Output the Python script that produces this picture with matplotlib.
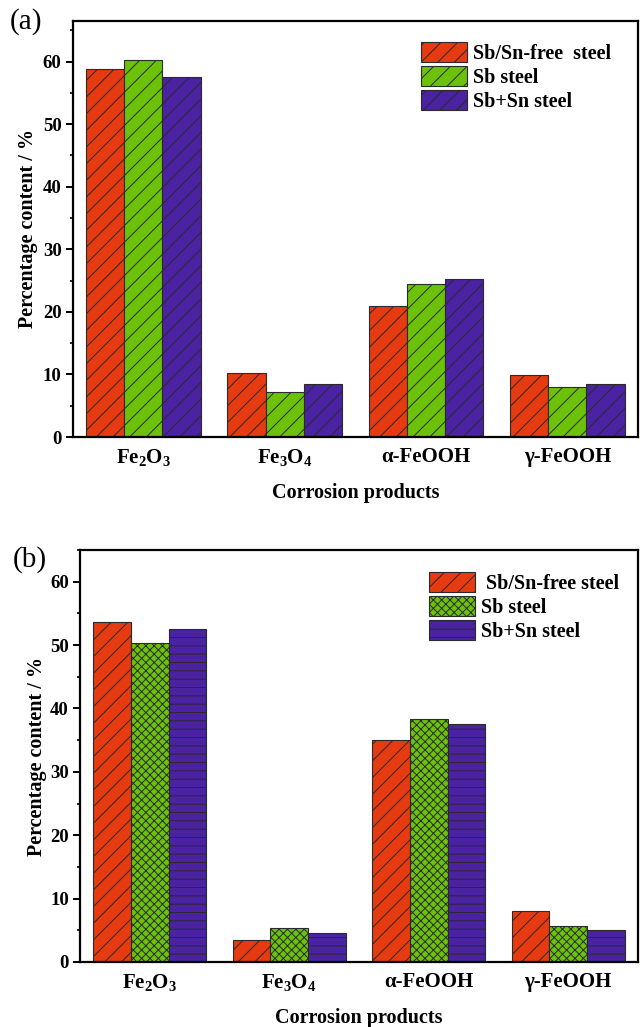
import numpy as np
import matplotlib
matplotlib.use("Agg")
import matplotlib.pyplot as plt
from matplotlib.ticker import MultipleLocator

# ---- data -------------------------------------------------------------
products = [r"$\mathrm{Fe_2O_3}$", r"$\mathrm{Fe_3O_4}$", "α-FeOOH", "γ-FeOOH"]
steels_a = ["Sb/Sn-free  steel", "Sb steel", "Sb+Sn steel"]
steels_b = [" Sb/Sn-free steel", "Sb steel", "Sb+Sn steel"]

# panel (a): percentage content of each corrosion product
free_a = [58.8, 10.2, 21.0, 9.9]
sb_a = [60.2, 7.2, 24.4, 8.0]
sbsn_a = [57.5, 8.4, 25.3, 8.5]

# panel (b)
free_b = [53.6, 3.4, 35.0, 8.0]
sb_b = [50.4, 5.4, 38.3, 5.7]
sbsn_b = [52.6, 4.5, 37.6, 5.1]

y_ticks = [0, 10, 20, 30, 40, 50, 60]

# ---- style ------------------------------------------------------------
plt.rcParams["font.family"] = ["Liberation Serif", "DejaVu Serif"]
plt.rcParams["font.weight"] = "bold"
plt.rcParams["mathtext.fontset"] = "custom"
plt.rcParams["mathtext.rm"] = "Liberation Serif:bold"
plt.rcParams["mathtext.it"] = "Liberation Serif:italic:bold"
plt.rcParams["mathtext.bf"] = "Liberation Serif:bold"
plt.rcParams["hatch.linewidth"] = 0.7

colors = ["#E63A10", "#6CC10B", "#4A22A2"]
edge = "#2a2a2a"

W, H = 644, 1027
fig = plt.figure(figsize=(W / 100, H / 100), dpi=100)


def box(left, top, right, bottom):
    return [left / W, 1 - bottom / H, (right - left) / W, (bottom - top) / H]


def panel(rect, series, labels, hatches, ymax, tag, tag_xy, leg_xy, ylab_x):
    ax = fig.add_axes(rect)
    x = np.arange(len(products))
    width = 0.27
    handles = []
    for i, (vals, lab, hat) in enumerate(zip(series, labels, hatches)):
        b = ax.bar(x + (i - 1) * width, vals, width, color=colors[i],
                   edgecolor=edge, linewidth=0.8, hatch=hat, label=lab)
        handles.append(b)
    ax.set_xlim(-0.5, 3.5)
    ax.set_ylim(0, ymax)
    ax.set_xticks(x)
    ax.set_xticklabels(products, fontsize=15, fontweight="bold")
    ax.set_yticks(y_ticks)
    ax.yaxis.set_minor_locator(MultipleLocator(5))
    ax.tick_params(axis="x", length=0, pad=7)
    ax.tick_params(axis="y", which="major", length=5, width=1.4,
                   labelsize=13.5, pad=3)
    ax.tick_params(axis="y", which="minor", length=2.5, width=1.2)
    for lbl in ax.get_yticklabels():
        lbl.set_fontweight("bold")
    for s in ax.spines.values():
        s.set_linewidth(1.6)
    ax.set_xlabel("Corrosion products", fontsize=14.5, fontweight="bold",
                  labelpad=11)
    ax.set_ylabel("Percentage content / %", fontsize=14.5, fontweight="bold")
    ax.yaxis.set_label_coords(ylab_x, 0.5)
    fig.text(tag_xy[0] / W, 1 - tag_xy[1] / H, tag, fontsize=21,
             fontweight="normal", ha="center", va="center")
    ax.legend(handles=handles, loc="upper left",
              bbox_to_anchor=(leg_xy[0] / W, 1 - leg_xy[1] / H),
              bbox_transform=fig.transFigure, frameon=False, borderpad=0,
              borderaxespad=0, handlelength=2.3, handleheight=1.15,
              handletextpad=0.3, labelspacing=0.12,
              prop={"family": "Liberation Serif", "weight": "bold",
                    "size": 14.5})
    return ax


panel(box(72.7, 21, 638, 437), [free_a, sb_a, sbsn_a], steels_a,
      ["//", "//", "//"], 66.5, "(a)", (26, 22), (421, 42), -0.062)
panel(box(80, 550, 638, 962), [free_b, sb_b, sbsn_b], steels_b,
      ["//", "xxxx", "--"], 65, "(b)", (30, 560), (429, 572), -0.060)

fig.savefig("out.png", dpi=100)
